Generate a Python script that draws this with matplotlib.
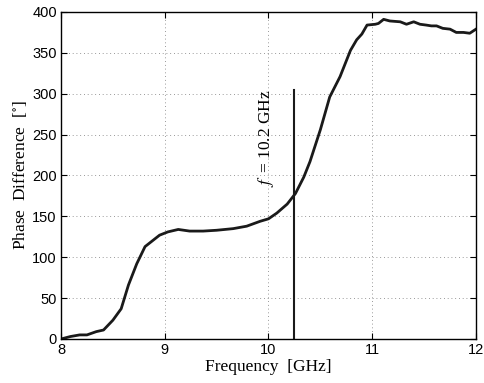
import matplotlib
matplotlib.use("Agg")
import matplotlib.pyplot as plt

freq = [8.00, 8.09, 8.18, 8.25, 8.34, 8.41, 8.50, 8.58, 8.65, 8.73, 8.81, 8.87,
        8.95, 9.03, 9.13, 9.24, 9.37, 9.50, 9.66, 9.79, 9.92, 10.00, 10.08,
        10.18, 10.26, 10.34, 10.40, 10.50, 10.59, 10.69, 10.79, 10.85, 10.90,
        10.95, 11.03, 11.06, 11.11, 11.17, 11.27, 11.33, 11.40, 11.46, 11.52,
        11.57, 11.62, 11.68, 11.75, 11.81, 11.88, 11.94, 12.00]
phase = [0, 3, 5, 5, 9, 11, 23, 37, 66, 92, 113, 119,
         127, 131, 134, 132, 132, 133, 135, 138, 144, 147, 154,
         165, 178, 198, 217, 256, 296, 321, 353, 366, 373,
         384, 385, 386, 391, 389, 388, 385, 388, 385, 384,
         383, 383, 380, 379, 375, 375, 374, 379]

f_mark = 10.25
f_mark_top = 305
mark_label = r"$f\;\;$= 10.2 GHz"

plt.rcParams["mathtext.fontset"] = "stix"
serif = ["Liberation Serif", "DejaVu Serif"]

fig = plt.figure(figsize=(4.85, 3.83), dpi=100)
ax = fig.add_axes([0.1258, 0.1149, 0.9814 - 0.1258, 0.9687 - 0.1149])

ax.plot(freq, phase, color="#1a1a1a", lw=2.0)
ax.plot([f_mark, f_mark], [0, f_mark_top], color="#1a1a1a", lw=1.5)
ax.text(9.98, 246, mark_label, rotation=90, ha="center", va="center",
        fontsize=12.5, family=serif)

ax.set_xlim(8, 12)
ax.set_ylim(0, 400)
ax.set_xticks([8, 9, 10, 11, 12])
ax.set_yticks(range(0, 401, 50))
ax.grid(True, linestyle=(0, (1, 3.5)), color="#777777", lw=0.6)
ax.tick_params(direction="in", top=True, right=True, labelsize=10.5, length=4,
               width=0.8, pad=3)
for lab in ax.get_xticklabels() + ax.get_yticklabels():
    lab.set_family("Liberation Sans")
for sp in ax.spines.values():
    sp.set_linewidth(1.0)

ax.set_xlabel("Frequency  [GHz]", fontsize=12.5, family=serif, labelpad=1)
ax.set_ylabel(r"Phase  Difference  [$^{\circ}$]", fontsize=12.5, family=serif,
              labelpad=2)

fig.savefig("out.png", dpi=100)
